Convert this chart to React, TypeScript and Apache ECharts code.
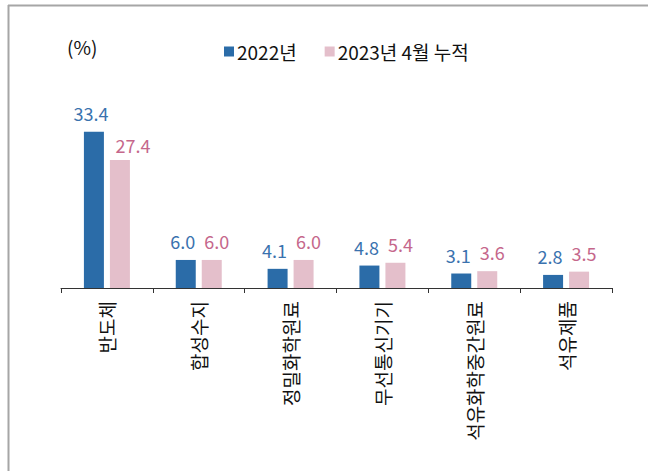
import React, { useEffect, useRef } from "react";
import * as echarts from "echarts";

const categories = ["반도체", "합성수지", "정밀화학원료", "무선통신기기", "석유화학중간원료", "석유제품"];
const series2022 = [33.4, 6.0, 4.1, 4.8, 3.1, 2.8];
const series2023 = [27.4, 6.0, 6.0, 5.4, 3.6, 3.5];
const seriesNames = ["2022년", "2023년 4월 누적"];

const FONT = "'Noto Sans CJK KR', 'Noto Sans', sans-serif";

export default function App() {
  const ref = useRef<HTMLDivElement>(null);
  useEffect(() => {
    const chart = echarts.init(ref.current!, null, { renderer: "svg" });
    const pinkData = series2023.map((v, i) =>
      i === 0 ? { value: v, label: { offset: [13, 0], distance: 6 } } : v
    );
    chart.setOption({
      animation: false,
      backgroundColor: "#ffffff",
      textStyle: { fontFamily: FONT },
      legend: {
        left: 219,
        top: 37,
        itemWidth: 10,
        itemHeight: 10,
        itemGap: 28,
        icon: "rect",
        textStyle: { fontSize: 19, color: "#111", fontFamily: FONT, padding: [0, 0, 0, -2] },
        data: seriesNames,
      },
      graphic: [
        { type: "line", shape: { x1: 8, y1: 5.5, x2: 648, y2: 5.5 }, style: { stroke: "#a6a6a6", lineWidth: 2 } },
        { type: "line", shape: { x1: 8.5, y1: 5, x2: 8.5, y2: 471 }, style: { stroke: "#a6a6a6", lineWidth: 2 } },
        { type: "text", left: 67, top: 37, style: { text: "(%)", fontSize: 19, fill: "#111", fontFamily: FONT } },
      ],
      grid: { left: 61, right: 36, top: 101, bottom: 183, containLabel: false },
      xAxis: {
        type: "category",
        data: categories,
        axisLine: { show: true, lineStyle: { color: "#333", width: 1 } },
        axisTick: { show: true, length: 5, lineStyle: { color: "#333" } },
        axisLabel: { rotate: 90, margin: 13, fontSize: 19, color: "#111", fontFamily: FONT, interval: 0 },
      },
      yAxis: {
        type: "value",
        min: 0,
        max: 40,
        show: false,
        splitLine: { show: false },
      },
      series: [
        {
          name: seriesNames[0],
          type: "bar",
          data: series2022,
          barWidth: 20,
          barGap: "30%",
          itemStyle: { color: "#2b6ca8" },
          label: {
            show: true,
            position: "top",
            distance: 10,
            offset: [-3, 0],
            fontSize: 18,
            color: "#3a72ae",
            fontFamily: FONT,
            formatter: (p: any) => Number(p.value).toFixed(1),
          },
        },
        {
          name: seriesNames[1],
          type: "bar",
          data: pinkData,
          barWidth: 20,
          itemStyle: { color: "#e4bfcb" },
          label: {
            show: true,
            position: "top",
            distance: 10,
            offset: [5, 0],
            fontSize: 18,
            color: "#c5678b",
            fontFamily: FONT,
            formatter: (p: any) => Number(p.value).toFixed(1),
          },
        },
      ],
    });
    return () => chart.dispose();
  }, []);
  return (
    <div
      ref={ref}
      style={{ position: "absolute", left: 0, top: 0, width: 648, height: 471 }}
    />
  );
}
